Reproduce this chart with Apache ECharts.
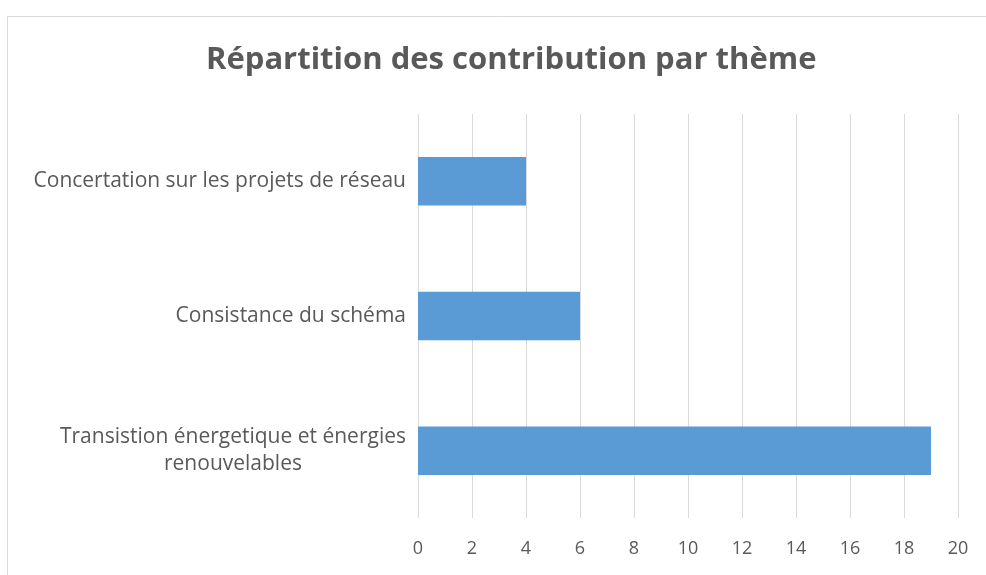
<!DOCTYPE html>
<html>
<head>
<meta charset="utf-8">
<script src="https://cdn.jsdelivr.net/npm/echarts@6/dist/echarts.min.js"></script>
<style>
  html, body { margin: 0; padding: 0; background: #fff; }
  #chart { width: 986px; height: 575px; }
</style>
</head>
<body>
<div id="chart"></div>
<script>
// categories from bottom to top (ECharts category y axis starts at the bottom)
const themes = [
  'Transistion énergetique et énergies\nrenouvelables',
  'Consistance du schéma',
  'Concertation sur les projets de réseau'
]
const contributions = [19, 6, 4]
const xTicks = [0, 2, 4, 6, 8, 10, 12, 14, 16, 18, 20]

const chart = echarts.init(document.getElementById('chart'))

chart.setOption({
  animation: false,
  textStyle: { fontFamily: 'Open Sans' },
  title: {
    text: 'Répartition des contribution par thème',
    left: 201,
    top: 40,
    textStyle: { fontSize: 31, fontWeight: 'bold', color: '#595959', fontFamily: 'Open Sans' }
  },
  graphic: [
    {
      type: 'rect',
      shape: { x: 7.5, y: 16.5, width: 2000, height: 2000 },
      style: { fill: 'none', stroke: '#d9d9d9', lineWidth: 1 },
      silent: true
    }
  ],
  grid: {
    top: 114,
    left: 418,
    right: 28,
    bottom: 57
  },
  xAxis: {
    type: 'value',
    min: xTicks[0],
    max: xTicks[xTicks.length - 1],
    interval: 2,
    axisLine: { show: false },
    axisTick: { show: false },
    splitLine: { show: true, lineStyle: { color: '#d9d9d9', width: 1 } },
    axisLabel: { color: '#595959', fontSize: 18, margin: 22 }
  },
  yAxis: {
    type: 'category',
    data: themes,
    axisLine: { show: false },
    axisTick: { show: false },
    axisLabel: {
      margin: 12,
      lineHeight: 27,
      formatter: function (v) {
        return v.split('\n').map(function (s) { return '{c|' + s + '}' }).join('\n')
      },
      rich: {
        c: { color: '#595959', fontSize: 21, align: 'center', lineHeight: 27, fontFamily: 'Open Sans' }
      }
    }
  },
  series: [
    {
      type: 'bar',
      data: contributions,
      barCategoryGap: '64%',
      itemStyle: { color: '#5b9bd5' }
    }
  ]
})
</script>
</body>
</html>
